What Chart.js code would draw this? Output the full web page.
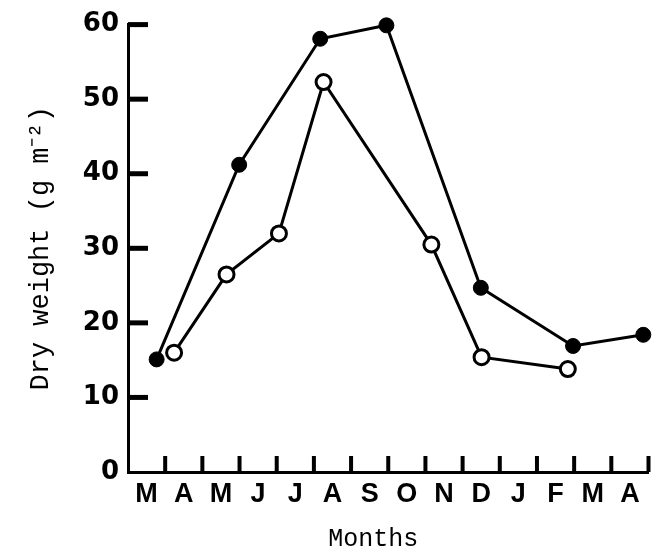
<!DOCTYPE html>
<html lang="en">
<head>
  <meta charset="UTF-8" />
  <title>Dry weight by month</title>
  <script src="https://cdn.jsdelivr.net/npm/chart.js"></script>
  <style>
    body { margin: 0; background: #fff; }
    canvas { display: block; }
  </style>
</head>
<body>
  <canvas id="chart" width="659" height="556"></canvas>

  <script>
    // month letters, centred inside each month
    const monthLabels = ['M', 'A', 'M', 'J', 'J', 'A', 'S', 'O', 'N', 'D', 'J', 'F', 'M', 'A'];
    // month boundaries (inward tick marks)
    const boundaryTicks = [1, 2, 3, 4, 5, 6, 7, 8, 9, 10, 11, 12, 13, 14];
    const yTicks = [10, 20, 30, 40, 50, 60];

    // filled circles
    const filledX = [0.77, 2.99, 5.17, 6.95, 9.49, 11.97, 13.86];
    const filledY = [15.1, 41.2, 58.1, 59.9, 24.7, 16.9, 18.4];
    // open circles
    const openX = [1.24, 2.65, 4.06, 5.26, 8.16, 9.51, 11.83];
    const openY = [16.0, 26.5, 32.0, 52.3, 30.5, 15.4, 13.8];

    const toPoints = (xs, ys) => xs.map((x, i) => ({ x: x, y: ys[i] }));

    // inward tick marks drawn from the scales
    const inwardTicks = {
      id: 'inwardTicks',
      beforeDatasetsDraw(chart) {
        const c = chart.ctx;
        const xs = chart.scales.x, ys = chart.scales.y;
        const area = chart.chartArea;
        c.save();
        c.strokeStyle = '#000';
        c.lineWidth = 5;
        yTicks.forEach(v => {
          const py = ys.getPixelForValue(v);
          c.beginPath();
          c.moveTo(area.left, py);
          c.lineTo(area.left + 20, py);
          c.stroke();
        });
        c.lineWidth = 4;
        boundaryTicks.forEach(v => {
          const px = xs.getPixelForValue(v);
          c.beginPath();
          c.moveTo(px, area.bottom);
          c.lineTo(px, area.bottom - 16);
          c.stroke();
        });
        c.restore();
      }
    };

    new Chart(document.getElementById('chart'), {
      type: 'line',
      data: {
        datasets: [
          {
            label: 'filled',
            data: toPoints(filledX, filledY),
            borderColor: '#000',
            borderWidth: 3,
            backgroundColor: '#000',
            pointBackgroundColor: '#000',
            pointBorderColor: '#000',
            pointRadius: 7.5,
            pointBorderWidth: 1,
            fill: false,
            tension: 0,
            clip: false
          },
          {
            label: 'open',
            data: toPoints(openX, openY),
            borderColor: '#000',
            borderWidth: 3,
            pointBackgroundColor: '#fff',
            pointBorderColor: '#000',
            pointRadius: 7.5,
            pointBorderWidth: 3,
            fill: false,
            tension: 0,
            clip: false
          }
        ]
      },
      options: {
        responsive: false,
        animation: false,
        events: [],
        layout: { padding: { left: 21, right: 7, top: 20, bottom: 0 } },
        plugins: {
          legend: { display: false },
          tooltip: { enabled: false }
        },
        scales: {
          x: {
            type: 'linear',
            min: 0,
            max: 14,
            afterBuildTicks: scale => {
              scale.ticks = monthLabels.map((m, i) => ({ value: i + 0.5 }));
            },
            afterFit: scale => { scale.height = 84; },
            grid: { color: 'transparent', drawTicks: false },
            border: { display: true, color: '#000', width: 3 },
            ticks: {
              autoSkip: false,
              maxRotation: 0,
              minRotation: 0,
              padding: 6,
              color: '#000',
              font: { family: 'Liberation Sans', size: 27, weight: 'bold' },
              callback: (value, index) => monthLabels[index]
            },
            title: {
              display: true,
              text: 'Months  ',
              color: '#000',
              padding: { top: 0, bottom: 2 },
              font: { family: 'Liberation Mono', size: 25 }
            }
          },
          y: {
            min: 0,
            max: 60,
            afterFit: scale => { scale.width = 107; },
            grid: { color: 'transparent', drawTicks: false },
            border: { display: true, color: '#000', width: 3 },
            ticks: {
              stepSize: 10,
              padding: 9,
              color: '#000',
              font: { family: 'DejaVu Sans', size: 26, weight: 'bold' }
            },
            title: {
              display: true,
              text: 'Dry weight (g m⁻²)',
              color: '#000',
              padding: { top: 4, bottom: 4 },
              font: { family: 'Liberation Mono', size: 27 }
            }
          }
        }
      },
      plugins: [inwardTicks]
    });
  </script>
</body>
</html>
